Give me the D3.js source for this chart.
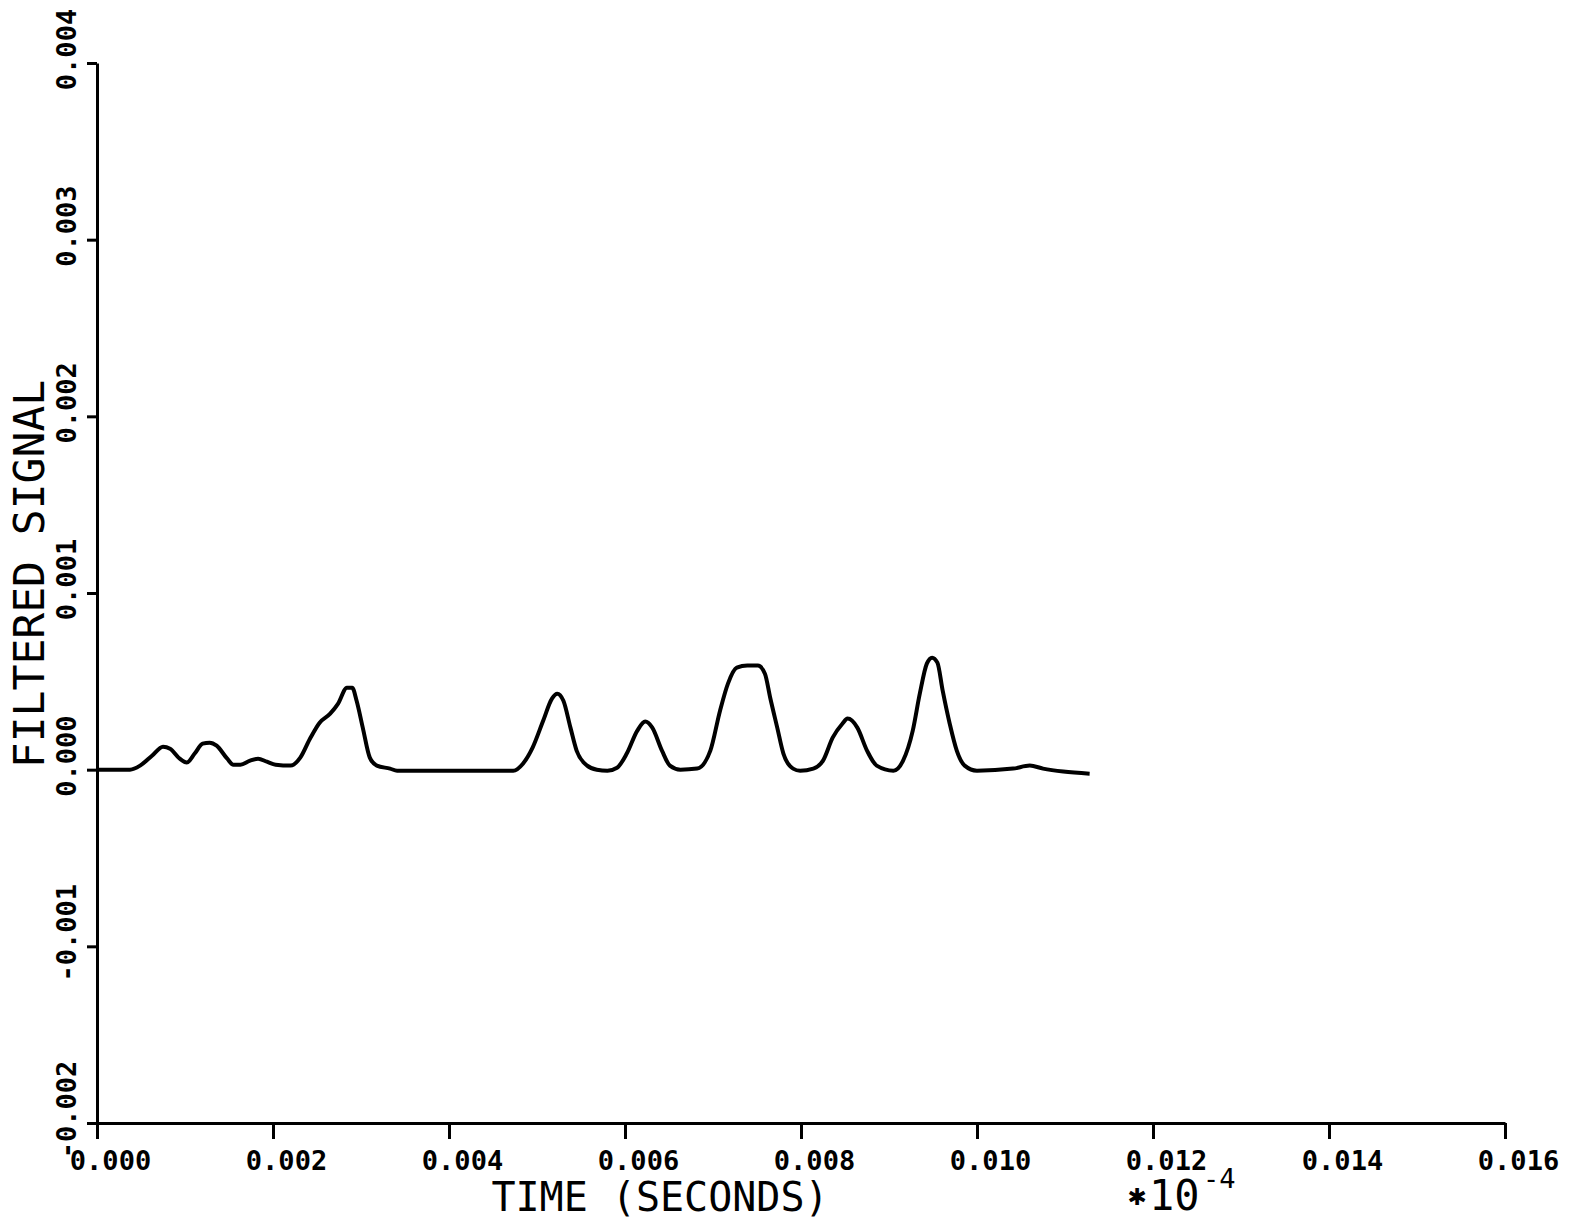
<!DOCTYPE html>
<html lang="en">
<head>
  <meta charset="UTF-8" />
  <title>Filtered Signal</title>
  <script src="https://d3js.org/d3.v7.min.js"></script>
  <style>
    body {
      margin: 0;
      padding: 0;
      background: #fff;
    }
    svg {
      display: block;
    }
    .axis path, .axis line {
      stroke: #000;
      stroke-width: 3px;
    }
    .axis text {
      font-family: "DejaVu Sans Mono", monospace;
      font-weight: bold;
      font-size: 27px;
      fill: #000;
    }
    .title {
      font-family: "DejaVu Sans Mono", monospace;
      fill: #000;
    }
  </style>
</head>
<body>
  <svg width="1579" height="1223"></svg>

  <script>
    // time (seconds) and filtered signal
    const time = [
      0.00000, 0.000375, 0.00049, 0.000625, 0.00075, 0.00083, 0.00094, 0.00102,
      0.00111, 0.00120, 0.00128, 0.00136, 0.00148, 0.00155, 0.00163, 0.00174,
      0.00183, 0.00193, 0.00203, 0.00220, 0.00231, 0.00242, 0.00253, 0.00265,
      0.00274, 0.00284, 0.00290, 0.00295, 0.00302, 0.00310, 0.00318, 0.00333,
      0.00341, 0.00458, 0.00473, 0.00484, 0.00495, 0.00507, 0.00517, 0.00523,
      0.00530, 0.00538, 0.00545, 0.00557, 0.00568, 0.00580, 0.00591, 0.00602,
      0.00614, 0.00623, 0.00631, 0.00642, 0.00651, 0.00663, 0.00682, 0.00697,
      0.00708, 0.00717, 0.00727, 0.00739, 0.00751, 0.00759, 0.00765, 0.00773,
      0.00780, 0.00791, 0.00799, 0.00814, 0.00825, 0.00836, 0.00847, 0.00853,
      0.00864, 0.00875, 0.00886, 0.00905, 0.00916, 0.00927, 0.00935, 0.00943,
      0.00949, 0.00955, 0.00961, 0.00969, 0.00977, 0.00986, 0.01000, 0.01041,
      0.01060, 0.01075, 0.01098, 0.01128
    ];
    const signal = [
      0.000000, 0.000000, 0.000023, 0.000079, 0.000130, 0.000119, 0.000062, 0.000040,
      0.000091, 0.000147, 0.000153, 0.000136, 0.000062, 0.000028, 0.000028, 0.000051,
      0.000062, 0.000045, 0.000028, 0.000023, 0.000068, 0.000175, 0.000266, 0.000317,
      0.000374, 0.000464, 0.000464, 0.000390, 0.000238, 0.000068, 0.000023, 0.000006,
      -0.000006, -0.000006, -0.000006, 0.000034, 0.000125, 0.000277, 0.000402, 0.000430,
      0.000390, 0.000238, 0.000108, 0.000023, 0.000000, -0.000006, 0.000011, 0.000091,
      0.000221, 0.000272, 0.000238, 0.000108, 0.000023, 0.000000, 0.000006, 0.000108,
      0.000334, 0.000487, 0.000577, 0.000589, 0.000589, 0.000543, 0.000407, 0.000238,
      0.000091, 0.000006, -0.000006, 0.000006, 0.000051, 0.000181, 0.000260, 0.000289,
      0.000238, 0.000108, 0.000023, -0.000006, 0.000051, 0.000221, 0.000430, 0.000600,
      0.000634, 0.000606, 0.000447, 0.000260, 0.000108, 0.000023, -0.000006, 0.000006,
      0.000023, 0.000006, -0.000011, -0.000023
    ];

    const xTicks = [0, 0.002, 0.004, 0.006, 0.008, 0.010, 0.012, 0.014, 0.016];
    const yTicks = [-0.002, -0.001, 0, 0.001, 0.002, 0.003, 0.004];

    const svg = d3.select("svg");

    const x = d3.scaleLinear().domain([0, 0.016]).range([97, 1505]);
    const y = d3.scaleLinear().domain([-0.002, 0.004]).range([1123, 63]);

    // x axis
    const gx = svg.append("g")
      .attr("class", "axis")
      .attr("transform", "translate(0,1123)")
      .call(d3.axisBottom(x)
        .tickValues(xTicks)
        .tickSize(16)
        .tickSizeOuter(0)
        .tickFormat(d => d.toFixed(3)));
    gx.selectAll("text")
      .attr("x", 13)
      .attr("y", 47)
      .attr("dy", 0);

    // y axis
    const gy = svg.append("g")
      .attr("class", "axis")
      .attr("transform", "translate(97,0)")
      .call(d3.axisLeft(y)
        .tickValues(yTicks)
        .tickSize(10)
        .tickSizeOuter(0)
        .tickFormat(d => d.toFixed(3)));
    gy.selectAll("text")
      .attr("x", 0)
      .attr("y", 0)
      .attr("dy", 0)
      .attr("text-anchor", "middle")
      .attr("transform", "translate(-21,-14) rotate(-90)");

    // signal trace
    const line = d3.line()
      .x((d, i) => x(time[i]))
      .y(d => y(d))
      .curve(d3.curveMonotoneX);

    svg.append("path")
      .datum(signal)
      .attr("fill", "none")
      .attr("stroke", "#000")
      .attr("stroke-width", 4)
      .attr("stroke-linejoin", "round")
      .attr("d", line);

    // titles
    svg.append("text")
      .attr("class", "title")
      .attr("font-size", 43)
      .attr("text-anchor", "middle")
      .attr("transform", "translate(44,574) rotate(-90)")
      .text("FILTERED SIGNAL");

    svg.append("text")
      .attr("class", "title")
      .attr("font-size", 40)
      .attr("text-anchor", "middle")
      .attr("x", 660)
      .attr("y", 1211)
      .text("TIME (SECONDS)");

    // scale multiplier
    svg.append("text")
      .attr("class", "title")
      .attr("font-size", 30)
      .attr("font-weight", "bold")
      .attr("x", 1128)
      .attr("y", 1205)
      .text("✱");
    svg.append("text")
      .attr("class", "title")
      .attr("font-size", 42)
      .attr("x", 1149)
      .attr("y", 1210)
      .text("10");
    svg.append("text")
      .attr("class", "title")
      .attr("font-size", 27)
      .attr("x", 1203)
      .attr("y", 1188)
      .text("-4");
  </script>
</body>
</html>
